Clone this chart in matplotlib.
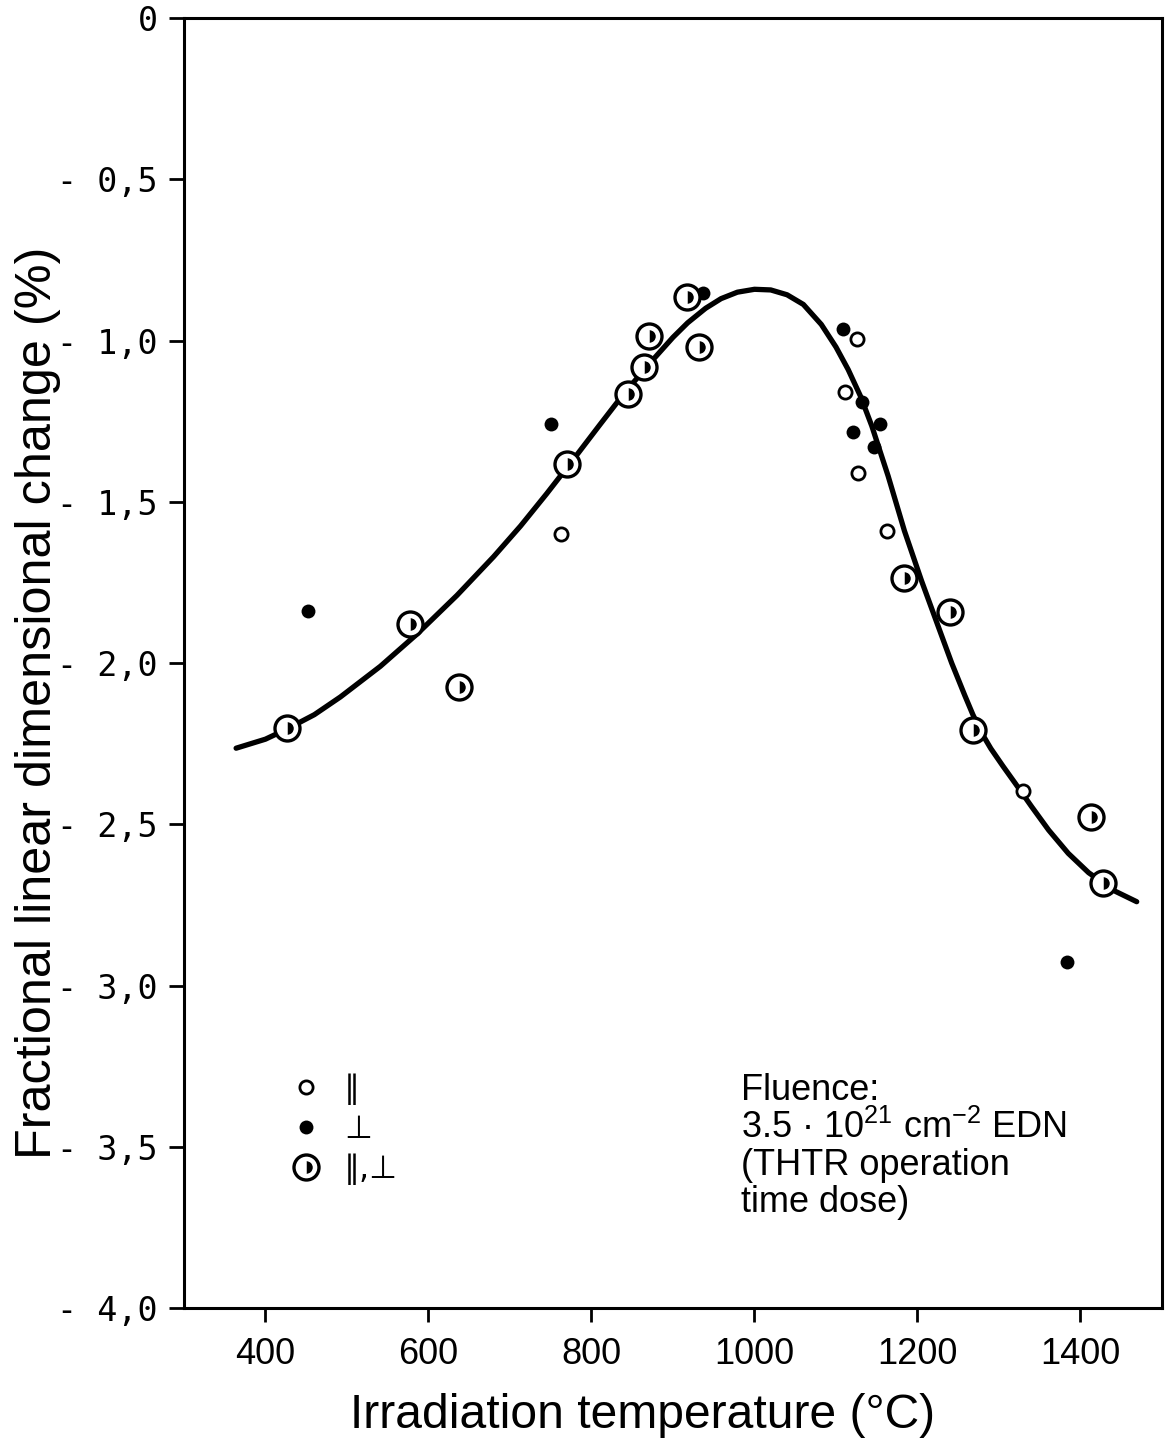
import matplotlib
matplotlib.use("Agg")
import matplotlib.pyplot as plt
from matplotlib.lines import Line2D
from matplotlib.legend_handler import HandlerTuple
from matplotlib import font_manager as fm

# ---------------- data ----------------
both_T = [426, 577, 637, 770, 845, 865, 870, 917, 932, 1184, 1240, 1268, 1413, 1428]
both_D = [-2.200, -1.879, -2.075, -1.384, -1.166, -1.081, -0.986, -0.866, -1.021,
          -1.736, -1.841, -2.208, -2.477, -2.683]

par_T = [763, 1126, 1111, 1127, 1163, 1330]
par_D = [-1.600, -0.996, -1.159, -1.410, -1.590, -2.396]

perp_T = [452, 750, 937, 1109, 1132, 1121, 1154, 1147, 1384]
perp_D = [-1.838, -1.259, -0.852, -0.965, -1.191, -1.283, -1.259, -1.329, -2.926]

curve_T = [364, 400, 426, 460, 492, 541, 586, 635, 680, 713, 745, 781, 810, 832,
           848, 877, 900, 918, 940, 959, 979, 1000, 1020, 1040, 1060, 1082, 1100,
           1115, 1130, 1144, 1164, 1184, 1205, 1226, 1242, 1258, 1268, 1279, 1290,
           1305, 1320, 1340, 1361, 1385, 1410, 1443, 1469]
curve_D = [-2.264, -2.236, -2.205, -2.160, -2.105, -2.010, -1.910, -1.790, -1.670,
           -1.575, -1.475, -1.358, -1.262, -1.190, -1.140, -1.055, -0.990, -0.945,
           -0.900, -0.870, -0.850, -0.841, -0.843, -0.858, -0.888, -0.950, -1.020,
           -1.090, -1.172, -1.265, -1.420, -1.590, -1.745, -1.890, -2.000, -2.100,
           -2.160, -2.218, -2.265, -2.320, -2.373, -2.445, -2.518, -2.590, -2.650,
           -2.708, -2.740]

xticks = [400, 600, 800, 1000, 1200, 1400]
xtick_labels = ["400", "600", "800", "1000", "1200", "1400"]
yticks = [0, -0.5, -1.0, -1.5, -2.0, -2.5, -3.0, -3.5, -4.0]
ytick_labels = ["0", "- 0,5", "- 1,0", "- 1,5", "- 2,0", "- 2,5", "- 3,0", "- 3,5", "- 4,0"]

legend_labels = ["\u2225", "\u22a5", "\u2225,\u22a5"]
note_lines = ["Fluence:", "3.5 \u00b7 10$^{21}$ cm$^{-2}$ EDN", "(THTR operation", "time dose)"]
xlabel = "Irradiation temperature (\u00b0C)"
ylabel = "Fractional linear dimensional change (%)"

# ---------------- fonts ----------------
names = {f.name for f in fm.fontManager.ttflist}
SANS = "Liberation Sans" if "Liberation Sans" in names else "DejaVu Sans"

plt.rcParams["mathtext.fontset"] = "custom"
plt.rcParams["mathtext.rm"] = SANS
plt.rcParams["mathtext.it"] = SANS
plt.rcParams["mathtext.bf"] = SANS

# ---------------- figure ----------------
fig = plt.figure(figsize=(11.65, 14.46), dpi=100)
ax = fig.add_axes([0.1579, 0.0954, 0.8395, 0.8921])
ax.set_xlim(300, 1500)
ax.set_ylim(-4.0, 0.0)

for s in ax.spines.values():
    s.set_linewidth(2.2)
    s.set_color("black")

ax.set_xticks(xticks)
ax.set_xticklabels(xtick_labels, fontfamily=[SANS, "DejaVu Sans"], fontsize=26)
ax.set_yticks(yticks)
ax.set_yticklabels(ytick_labels, fontfamily=["DejaVu Sans Mono"], fontsize=24)
ax.tick_params(axis="x", direction="out", length=10, width=2, pad=11)
ax.tick_params(axis="y", direction="out", length=11, width=2, pad=8)

# fitted curve
ax.plot(curve_T, curve_D, color="black", lw=3.8, solid_capstyle="round",
        solid_joinstyle="round", zorder=2)

# parallel: small open circles
ax.plot(par_T, par_D, ls="none", marker="o", ms=9.5, mfc="white", mec="black",
        mew=2.0, zorder=4)
# perpendicular: filled circles
ax.plot(perp_T, perp_D, ls="none", marker="o", ms=10, mfc="black", mec="black",
        mew=0, zorder=4)
# both: big ring with half-filled core
ax.plot(both_T, both_D, ls="none", marker="o", ms=18, mfc="white", mec="black",
        mew=2.4, zorder=5)
ax.plot(both_T, both_D, ls="none", marker="o", ms=9, fillstyle="right",
        mfc="black", mfcalt="white", mec="black", mew=0, zorder=6)

# legend
h_par = Line2D([], [], ls="none", marker="o", ms=9.5, mfc="white", mec="black", mew=2.0)
h_perp = Line2D([], [], ls="none", marker="o", ms=10, mfc="black", mec="black", mew=0)
h_ring = Line2D([], [], ls="none", marker="o", ms=18, mfc="white", mec="black", mew=2.4)
h_core = Line2D([], [], ls="none", marker="o", ms=9, fillstyle="right",
                mfc="black", mfcalt="white", mec="black", mew=0)
leg = ax.legend([h_par, h_perp, (h_ring, h_core)], legend_labels,
                handler_map={tuple: HandlerTuple(ndivide=1, pad=0)},
                loc="upper left", bbox_to_anchor=(0.108, 0.182), frameon=False,
                handlelength=1.0, handletextpad=0.7,
                labelspacing=0.28, borderpad=0, borderaxespad=0,
                prop={"family": "DejaVu Sans", "size": 23})

# annotation
note_y = [0.1612, 0.1318, 0.1031, 0.0744]
for txt, yy in zip(note_lines, note_y):
    ax.text(0.5695, yy, txt, transform=ax.transAxes, ha="left", va="baseline",
            fontsize=26, family=SANS)

# axis labels (size fitted to the reference's text extent)
tx = fig.text(643 / 1165, 1 - 1415 / 1446, xlabel, ha="center", va="center",
              fontsize=36, family=SANS)
ty = fig.text(38 / 1165, 1 - 703 / 1446, ylabel, ha="center", va="center",
              rotation=90, fontsize=36, family=SANS)
fig.canvas.draw()
r = fig.canvas.get_renderer()
wx = tx.get_window_extent(r).width
tx.set_fontsize(36 * 585.0 / wx)
hy = ty.get_window_extent(r).height
ty.set_fontsize(36 * 915.0 / hy)

fig.savefig("out.png", dpi=100, facecolor="white")
